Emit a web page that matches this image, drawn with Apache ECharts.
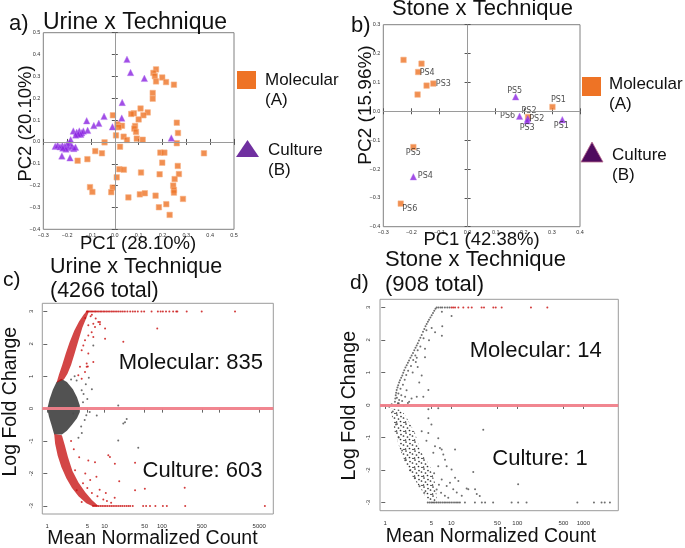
<!DOCTYPE html>
<html>
<head>
<meta charset="utf-8">
<script src="https://cdn.jsdelivr.net/npm/echarts@6/dist/echarts.min.js"></script>
<style>
html, body { margin: 0; padding: 0; background: #fff; }
#chart { width: 685px; height: 548px; }
</style>
</head>
<body>
<div id="chart"></div>
<script>
// a) Urine x Technique, PCA scores [PC1, PC2]
const urineMolecular = [
  [0.173,0.332],[0.162,0.316],[0.168,0.301],[0.173,0.277],[0.199,0.295],[0.215,0.274],[0.248,0.262],
  [0.159,0.224],[0.159,0.198],[0.108,0.153],[0.138,0.135],[0.120,0.122],[0.080,0.131],[0.069,0.128],
  [0.100,0.103],[0.085,0.073],[0.082,0.061],[0.089,0.046],[-0.008,0.122],[0.011,0.081],[0.030,0.074],
  [0.016,0.067],[0.005,0.030],[0.037,0.024],[0.051,0.009],[0.092,0.015],[0.117,0.010],[-0.043,-0.002],
  [0.022,-0.022],[0.260,0.088],[0.265,0.041],[0.260,-0.006],[0.374,-0.052],[0.191,-0.049],[0.208,-0.049],
  [0.199,-0.095],[0.264,-0.110],[0.269,-0.147],[0.188,-0.148],[0.251,-0.170],[0.110,-0.140],[0.019,-0.125],
  [0.038,-0.127],[0.008,-0.162],[-0.082,-0.042],[-0.054,-0.052],[-0.115,-0.079],[-0.156,-0.086],
  [-0.104,-0.207],[-0.094,-0.229],[-0.009,-0.209],[-0.015,-0.230],[0.057,-0.254],[0.105,-0.240],
  [0.126,-0.235],[0.171,-0.246],[0.185,-0.299],[0.216,-0.285],[0.230,-0.334],[0.245,-0.200],
  [0.248,-0.220],[0.248,-0.232],[0.286,-0.261]
];
const urineCulture = [
  [0.051,0.378],[0.066,0.318],[0.124,0.291],[0.031,0.181],[0.029,0.109],[-0.010,0.069],[-0.045,0.117],
  [-0.067,0.085],[-0.088,0.075],[-0.118,0.097],[-0.114,0.053],[-0.174,0.050],[-0.160,0.044],[-0.149,0.050],
  [-0.139,0.042],[-0.132,0.050],[-0.143,0.035],[-0.153,0.036],[-0.164,0.032],[0.237,0.018],
  [-0.250,-0.020],[-0.240,-0.015],[-0.230,-0.022],[-0.220,-0.016],[-0.210,-0.020],[-0.200,-0.010],
  [-0.195,-0.026],[-0.190,-0.004],[-0.185,0.010],[-0.180,-0.020],[-0.172,-0.030],[-0.165,-0.024],
  [-0.205,-0.032],[-0.218,-0.028],[-0.222,-0.064],[-0.188,-0.073]
];

// b) Stone x Technique, PCA scores with patient labels
const stoneMolecular = [
  [-0.228,0.178],[-0.164,0.165],[-0.176,0.136],[-0.146,0.089],[-0.122,0.096],[-0.178,0.058],
  [0.302,0.015],[0.215,-0.020],[-0.193,-0.124],[-0.238,-0.320]
];
const stoneMolecularNames = ['', '', 'PS4', '', 'PS3', '', 'PS1', 'PS2', 'PS5', 'PS6'];
const stoneCulture = [
  [0.171,0.050],[0.185,-0.017],[0.214,-0.025],[0.212,-0.033],[0.337,-0.029],[-0.193,-0.227]
];
const stoneCultureNames = ['PS5', 'PS6', 'PS2', 'PS3', 'PS1', 'PS4'];

// c) Urine MA plot [mean normalized count, log fold change]
const urineCoreGrey = [
  [1.0,0.0],[1.1,0.3],[1.25,0.58],[1.45,0.82],[1.75,0.92],[2.2,0.82],[2.8,0.6],[3.3,0.35],[3.7,0.1],
  [3.7,-0.1],[3.3,-0.3],[2.7,-0.5],[2.2,-0.68],[1.8,-0.8],[1.32,-0.8],[1.18,-0.5],[1.07,-0.25]
];
const urineBandUp = [
  [1.45,0.8],[1.6,1.05],[1.82,1.35],[2.1,1.7],[2.45,2.05],[2.95,2.4],[3.6,2.7],[4.3,2.9],[4.9,3.02],
  [5.4,3.02],[4.8,2.8],[4.1,2.5],[3.5,2.1],[3.0,1.7],[2.6,1.35],[2.25,1.08],[1.95,0.9],[1.7,0.85]
];
const urineBandDown = [
  [1.32,-0.78],[1.37,-1.08],[1.52,-1.45],[1.76,-1.8],[2.15,-2.15],[2.7,-2.45],[3.5,-2.7],[4.8,-2.92],
  [6.3,-3.02],[8.0,-3.02],[6.0,-2.82],[4.6,-2.58],[3.5,-2.28],[2.75,-1.92],[2.3,-1.5],[2.0,-1.1],[1.8,-0.82]
];
const urineSigPoints = [
  [5.2,2.57],[6.35,2.62],[7.77,2.67],[8.3,2.6],[6.8,2.52],[5.95,2.36],[5.2,2.26],[6.35,2.21],[4.55,2.11],
  [4.25,1.95],[3.98,1.8],[5.2,1.7],[6.35,1.44],[3.72,1.29],[4.87,1.29],[4.55,1.13],[3.48,1.03],[3.98,0.92],
  [8.3,2.67],[10.2,2.47],[10.2,2.16],[21.2,2.06],[4.87,1.39],[5.1,1.3],[5.7,2.85],[6.0,2.9],[4.6,2.8],
  [7.0,2.78],[83,2.47],
  [12.4,-1.49],[15.1,-1.7],[34,-1.67],[5.2,-1.6],[6.8,-1.65],[11.6,-1.44],[3.05,-1.9],[3.26,-2.52],
  [3.98,-2.88],[18,-2.24],[34,-2.52],[250,-2.44],[50.4,-2.47],[4.2,-2.3],[5.0,-2.45],[6.0,-2.6],[7.5,-2.7],
  [9.5,-2.8],[11,-2.85],[13,-2.9],[4.6,-2.0],[5.6,-2.2],[8.2,-2.5],[3.6,-1.5],[2.9,-1.25],[2.6,-1.0],
  [7.2,-2.1],[10.5,-2.6],[15,-2.75]
];
const urineNsPoints = [
  [6.35,1.95],[3.98,0.57],[3.25,0.87],[17.3,0.1],[7.3,-0.21],[22.7,-0.42],[24.3,-0.32],[17.3,-0.98],
  [38.7,-1.21],[4.3,0.45],[5.0,0.3],[5.5,-0.1],[3.9,-0.55],[4.5,-0.35],[6.0,0.6],[3.0,1.0],[4.7,0.75],
  [2.84,-0.15],[21.2,-0.46],[4.0,-0.75],[3.5,-0.9],[5.3,0.95],[2.6,0.9],[4.2,0.2],[4.8,-0.2]
];
const urineCapUp = [4.9,5.1,5.4,5.7,6.0,6.3,6.7,7.0,7.4,7.9,8.4,8.9,9.5,10.1,10.8,11.5,12.3,13.2,14.1,15.2,
  16.4,17.7,19.2,20.8,22.6,25,28,31,34,38,44,49,66,85,95,104,118,135,157,178,186,271,495,1888];
const urineCapDown = [6.3,6.8,7.3,7.9,8.5,9.1,9.8,10.5,11.3,12.2,13.1,14.1,15.2,16.4,17.7,19.1,20.6,22.3,
  24.2,26.1,28,31,47,53,62,77,104,122,255,6270];
const urineTicks = [1,5,10,50,100,500,1000,5000];
const urineTickLabels = [1,5,10,50,100,500,5000];

// d) Stone MA plot
const stoneCloud = [
  [1.2,-0.1],[1.3,-0.5],[1.4,-0.86],[1.53,-1.1],[1.67,-1.37],[1.88,-1.62],[2.11,-1.88],[2.5,-2.15],
  [2.99,-2.39],[3.5,-2.6],[4.0,-2.79],[4.5,-3.0],[6.0,-3.0],[6.0,-2.79],[5.66,-2.39],[4.75,-1.88],
  [3.36,-1.37],[2.82,-0.86],[2.2,-0.45],[1.77,-0.15]
];
const stoneNsPoints = [
  [1.40,0.10],[1.42,0.20],[1.44,0.30],[1.46,0.38],[1.49,0.46],[1.53,0.54],[1.57,0.61],[1.62,0.69],
  [1.67,0.76],[1.74,0.84],[1.81,0.91],[1.87,0.99],[1.94,1.07],[2.02,1.15],[2.11,1.22],[2.2,1.3],
  [2.29,1.37],[2.4,1.45],[2.51,1.52],[2.63,1.6],[2.75,1.68],[2.87,1.76],[2.99,1.83],[3.11,1.9],
  [3.24,1.98],[3.4,2.07],[3.56,2.15],[3.73,2.25],[3.9,2.34],[4.07,2.42],[4.24,2.49],[4.42,2.56],
  [4.6,2.62],[4.82,2.69],[5.05,2.76],[5.28,2.83],[5.52,2.9],[5.76,2.96],
  [1.5,0.22],[1.58,0.35],[1.7,0.5],[1.62,0.15],[1.75,0.3],[1.85,0.62],[1.97,0.78],[2.08,0.92],
  [2.22,1.05],[2.45,1.2],[2.65,1.38],[2.85,1.52],[3.1,1.68],[1.55,0.05],[1.8,0.12],[2.0,0.25],
  [2.3,0.1],[2.1,0.45],[2.6,1.0],[3.0,1.45],[3.4,1.8],[3.8,2.05],[4.2,2.3],
  [7.2,2.87],[10.1,2.74],[7.3,2.42],[5.05,2.37],[5.68,2.24],[4.6,1.99],[7.2,2.13],[4.0,1.73],
  [2.9,1.32],[3.1,1.17],[4.0,1.47],[3.56,0.91],[3.27,0.69],[4.5,0.46],[2.5,0.2],[3.77,0.25],
  [3.0,0.25],[6.35,-0.1],[4.5,-0.13],[1.15,-0.05],[1.25,0.02],[1.6,0.05],[1.9,-0.02],[2.2,0.06],
  [3.56,-0.81],[4.49,-0.86],[6.35,-1.02],[5.66,-1.27],[7.16,-1.37],[7.57,-1.52],[5.34,-1.47],
  [8.03,-1.68],[8.51,-1.88],[6.35,-1.88],[10.1,-1.98],[11.4,-2.24],[12.8,-2.34],[9.55,-2.39],
  [7.16,-2.29],[8.51,-2.49],[10.7,-2.59],[12.1,-2.69],[14.4,-2.79],[18.1,-2.59],[21.5,-2.06],
  [22.9,-2.59],[24.3,-2.74],[8.0,-2.79],[30.5,-0.76],[103,-2.44],[27,-2.8],[17.1,-2.57],[11.4,-1.37],
  [4.5,-0.41],[6.73,-1.32],[5.0,-0.6],[6.0,-2.6],[7.0,-2.7],[9.0,-2.85],[5.5,-2.1],[6.5,-2.45],[4.2,-1.1],
  [1.3,-0.2],[1.45,-0.6],[1.6,-1.0],[1.8,-1.4],[2.0,-1.7],[2.4,-2.0],[2.8,-2.25],[3.3,-2.5],[3.9,-2.7]
];
const stoneCapUpNs = [6.0,6.4,6.9,7.3,8.0,8.7,9.4];
const stoneCapUpSig = [10.1,10.7,11.4,12.8,15.2,18.1,20.4,28.8,31.3,43.3,47.1,58,161,285];
const stoneCapDown = [4.4,4.7,5.0,5.3,5.6,6.0,6.4,6.8,7.3,7.8,8.3,8.9,9.5,10.2,11,11.8,12.6,13.5,
  16.1,22.8,29,32.5,43,82,103,138,812,1450,1890,2110,2530];
const stoneTicks = [1,5,10,50,100,500,1000];
const lfcTicks = [-3,-2,-1,0,1,2,3];
const LFC_CAP = 3;

// label offsets (px, from marker centre) for panel b
const molLabelOffset = [[0,0],[0,0],[9,1],[0,0],[10,0],[0,0],[6,-7],[1,-6],[0,6],[9,5]];
const culLabelOffset = [[-1,-6],[-12,0],[9,0],[0,7],[-1,6],[12,-1]];

const FONT = 'Liberation Sans, Arial, sans-serif';
const ORANGE = '#EE7325';
const PURPLE = '#8A22E0';
const RED = '#C80A0A';
const GREY = '#4a4a4a';

const lg = p => [Math.log10(p[0]), p[1]];
const fmtPc = v => (v < -1e-9 ? '\u2212' : '') + Math.abs(v).toFixed(1);

// dotted texture so dense clouds read as many points rather than a flat fill
function speckle(color, size, r, spots) {
  const c = document.createElement('canvas');
  c.width = c.height = size;
  const g = c.getContext('2d');
  g.fillStyle = color;
  spots.forEach(s => { g.beginPath(); g.arc(s[0], s[1], r, 0, Math.PI * 2); g.fill(); });
  return { image: c, repeat: 'repeat' };
}
const denseSpots = [[1, 1]];
const looseSpots = [[1, 1], [5, 2.5], [2.5, 5], [7.5, 4], [4.5, 7.5], [8, 8.5], [0.5, 8]];

function pcaAxes(grid, min, max) {
  const tick = { inside: true, length: 3, lineStyle: { color: '#555' } };
  return {
    x: [
      { gridIndex: grid, type: 'value', position: 'bottom', min: min[0], max: max[0], interval: 0.1,
        axisLine: { show: false }, splitLine: { show: false }, axisTick: tick,
        axisLabel: { fontSize: 5.5, color: '#333', margin: 3, fontFamily: FONT, formatter: fmtPc } },
      { gridIndex: grid, type: 'value', position: 'top', min: min[0], max: max[0], interval: 0.1,
        axisLine: { show: false }, splitLine: { show: false }, axisTick: tick, axisLabel: { show: false } }
    ],
    y: [
      { gridIndex: grid, type: 'value', position: 'left', min: min[1], max: max[1], interval: 0.1,
        axisLine: { show: false }, splitLine: { show: false }, axisTick: tick,
        axisLabel: { fontSize: 5.5, color: '#333', margin: 3, fontFamily: FONT, formatter: fmtPc } },
      { gridIndex: grid, type: 'value', position: 'right', min: min[1], max: max[1], interval: 0.1,
        axisLine: { show: false }, splitLine: { show: false }, axisTick: tick, axisLabel: { show: false } }
    ]
  };
}

function maAxes(grid, xmin, xmax, ticks, labels, xMargin, yMargin) {
  return {
    x: { gridIndex: grid, type: 'value', min: xmin, max: xmax,
      axisLine: { show: false }, splitLine: { show: false },
      axisTick: { customValues: ticks.map(Math.log10), length: 4, lineStyle: { color: '#666' } },
      axisLabel: { customValues: labels.map(Math.log10), fontSize: 6, color: '#333', margin: xMargin,
        fontFamily: FONT, formatter: v => String(Math.round(Math.pow(10, v))) } },
    y: { gridIndex: grid, type: 'value', min: -3.25, max: 3.25,
      axisLine: { show: false }, splitLine: { show: false },
      axisTick: { customValues: lfcTicks, length: 4, lineStyle: { color: '#666' } },
      axisLabel: { customValues: lfcTicks, rotate: 90, fontSize: 6, color: '#333', margin: yMargin,
        fontFamily: FONT } }
  };
}

function polygonSeries(idx, pts, fill, z) {
  return {
    type: 'custom', xAxisIndex: idx, yAxisIndex: idx, z: z, silent: true, data: [[0, 0]],
    renderItem: function (params, api) {
      return { type: 'polygon', shape: { points: pts.map(p => api.coord(lg(p))) }, style: { fill: fill } };
    }
  };
}

function dots(idx, data, color, z) {
  return { type: 'scatter', xAxisIndex: idx, yAxisIndex: idx, z: z, silent: true, symbol: 'circle',
    symbolSize: 2, itemStyle: { color: color }, data: data };
}

function zeroLines(idx) {
  return { type: 'scatter', xAxisIndex: idx, yAxisIndex: idx, z: 1, data: [],
    markLine: { silent: true, animation: false, symbol: ['none', 'none'], label: { show: false },
      lineStyle: { color: '#9a9a9a', width: 1, type: 'solid' }, data: [{ xAxis: 0 }, { yAxis: 0 }] } };
}

function redLine(idx) {
  return { type: 'scatter', xAxisIndex: idx, yAxisIndex: idx, z: 5, data: [],
    markLine: { silent: true, animation: false, symbol: ['none', 'none'], label: { show: false },
      lineStyle: { color: '#F0808A', width: 3, type: 'solid', opacity: 0.95 }, data: [{ yAxis: 0 }] } };
}

function labelled(points, names, offsets) {
  return points.map((p, i) => ({
    value: p, name: names[i],
    label: { show: names[i] !== '', position: 'inside', offset: offsets[i], formatter: '{b}',
      fontSize: 8, color: '#222', fontFamily: 'DejaVu Sans, sans-serif' }
  }));
}

const axA = pcaAxes(0, [-0.3, -0.4], [0.5, 0.5]);
const axB = pcaAxes(1, [-0.3, -0.4], [0.4, 0.3]);
const axC = maAxes(2, -0.087, 3.944, urineTicks, urineTickLabels, 9, 8);
const axD = maAxes(3, -0.08, 3.53, stoneTicks, stoneTicks, 10, 9);

function txt(text, x, y, size, align, rot) {
  return { type: 'text', x: x, y: y, rotation: rot || 0, z: 10,
    style: { text: text, font: size + 'px ' + FONT, fill: '#111', textAlign: align || 'left',
      textVerticalAlign: 'middle' } };
}

const chart = echarts.init(document.getElementById('chart'), null, { renderer: 'canvas' });
chart.setOption({
  animation: false,
  backgroundColor: '#fff',
  grid: [
    { left: 43.3, top: 32.7, width: 190.7, height: 196.6, show: true, borderColor: '#808080', borderWidth: 1, containLabel: false, outerBoundsMode: 'none' },
    { left: 383.3, top: 24.7, width: 196.7, height: 202, show: true, borderColor: '#808080', borderWidth: 1, containLabel: false, outerBoundsMode: 'none' },
    { left: 42.3, top: 303.3, width: 231, height: 210.7, show: true, borderColor: '#9a9a9a', borderWidth: 1, containLabel: false, outerBoundsMode: 'none' },
    { left: 380, top: 299.3, width: 238.3, height: 211.4, show: true, borderColor: '#9a9a9a', borderWidth: 1, containLabel: false, outerBoundsMode: 'none' }
  ],
  xAxis: [axA.x[0], axA.x[1], axB.x[0], axB.x[1], axC.x, axD.x],
  yAxis: [axA.y[0], axA.y[1], axB.y[0], axB.y[1], axC.y, axD.y],
  series: [
    zeroLines(0),
    { type: 'scatter', xAxisIndex: 0, yAxisIndex: 0, z: 3, symbol: 'rect', symbolSize: 5.5,
      itemStyle: { color: ORANGE, borderColor: '#F7B486', borderWidth: 0.7 }, data: urineMolecular },
    { type: 'scatter', xAxisIndex: 0, yAxisIndex: 0, z: 4, symbol: 'triangle', symbolSize: 6.5,
      itemStyle: { color: PURPLE, borderColor: '#B87CF2', borderWidth: 0.5 }, data: urineCulture },
    zeroLines(2),
    { type: 'scatter', xAxisIndex: 2, yAxisIndex: 2, z: 3, symbol: 'rect', symbolSize: 5.5,
      itemStyle: { color: ORANGE, borderColor: '#F7B486', borderWidth: 0.7 },
      data: labelled(stoneMolecular, stoneMolecularNames, molLabelOffset) },
    { type: 'scatter', xAxisIndex: 2, yAxisIndex: 2, z: 4, symbol: 'triangle', symbolSize: 6.5,
      itemStyle: { color: PURPLE, borderColor: '#B87CF2', borderWidth: 0.5 },
      data: labelled(stoneCulture, stoneCultureNames, culLabelOffset) },
    polygonSeries(4, urineCoreGrey, speckle('#404040', 2, 1.1, denseSpots), 2),
    polygonSeries(4, urineBandUp, speckle('#C40808', 2, 1.0, denseSpots), 2),
    polygonSeries(4, urineBandDown, speckle('#C40808', 2, 1.0, denseSpots), 2),
    dots(4, urineNsPoints.map(lg), GREY, 3),
    dots(4, urineSigPoints.map(lg), RED, 3),
    dots(4, urineCapUp.map(c => lg([c, LFC_CAP])), RED, 3),
    dots(4, urineCapDown.map(c => lg([c, -LFC_CAP])), RED, 3),
    redLine(4),
    polygonSeries(5, stoneCloud, speckle('#333', 9, 0.85, looseSpots), 2),
    dots(5, stoneNsPoints.map(lg), GREY, 3),
    dots(5, stoneCapUpNs.map(c => lg([c, LFC_CAP])), GREY, 3),
    dots(5, stoneCapUpSig.map(c => lg([c, LFC_CAP])), RED, 3),
    dots(5, stoneCapDown.map(c => lg([c, -LFC_CAP])), GREY, 3),
    redLine(5)
  ],
  graphic: { elements: [
    txt('a)', 9, 23.8, 22),
    txt('Urine x Technique', 43, 22.6, 23),
    txt('PC1 (28.10%)', 138, 243.5, 18.5, 'center'),
    txt('PC2 (20.10%)', 26, 123.5, 18.5, 'center', Math.PI / 2),
    { type: 'rect', shape: { x: 237, y: 71, width: 19, height: 18 }, style: { fill: ORANGE } },
    txt('Molecular', 265, 80.7, 17),
    txt('(A)', 265, 100.7, 17),
    { type: 'polygon', shape: { points: [[236, 157], [247.5, 140], [259, 157]] }, style: { fill: '#7030A0' } },
    txt('Culture', 268, 150.7, 17),
    txt('(B)', 268, 170.7, 17),

    txt('b)', 351, 25.8, 22),
    txt('Stone x Technique', 392, 9.0, 22),
    txt('PC1 (42.38%)', 481.5, 240, 18.5, 'center'),
    txt('PC2 (15.96%)', 366, 105, 19, 'center', Math.PI / 2),
    { type: 'rect', shape: { x: 582, y: 77, width: 19, height: 19 }, style: { fill: ORANGE } },
    txt('Molecular', 609, 84.7, 17),
    txt('(A)', 609, 104, 17),
    { type: 'polygon', shape: { points: [[581, 162], [592, 142], [603, 162]] },
      style: { fill: '#4F0B5E', stroke: '#B86A8E', lineWidth: 0.8 } },
    txt('Culture', 612, 155.7, 17),
    txt('(B)', 612, 175.7, 17),

    txt('c)', 3, 280.6, 21),
    txt('Urine x Technique', 50, 267.5, 21.5),
    txt('(4266 total)', 50, 291.5, 21.5),
    txt('Log Fold Change', 10.5, 401.7, 19.5, 'center', Math.PI / 2),
    txt('Mean Normalized Count', 152.5, 539, 19.5, 'center'),
    txt('Molecular: 835', 190.8, 363.3, 22, 'center'),
    txt('Culture: 603', 202.5, 470.6, 22, 'center'),

    txt('d)', 350, 283.3, 21),
    txt('Stone x Technique', 385, 259.8, 22),
    txt('(908 total)', 385, 285.3, 22),
    txt('Log Fold Change', 350, 405.8, 19.5, 'center', Math.PI / 2),
    txt('Mean Normalized Count', 490.8, 536.5, 19.5, 'center'),
    txt('Molecular: 14', 535.8, 351, 22, 'center'),
    txt('Culture: 1', 540, 459, 22, 'center')
  ] }
});
</script>
</body>
</html>
